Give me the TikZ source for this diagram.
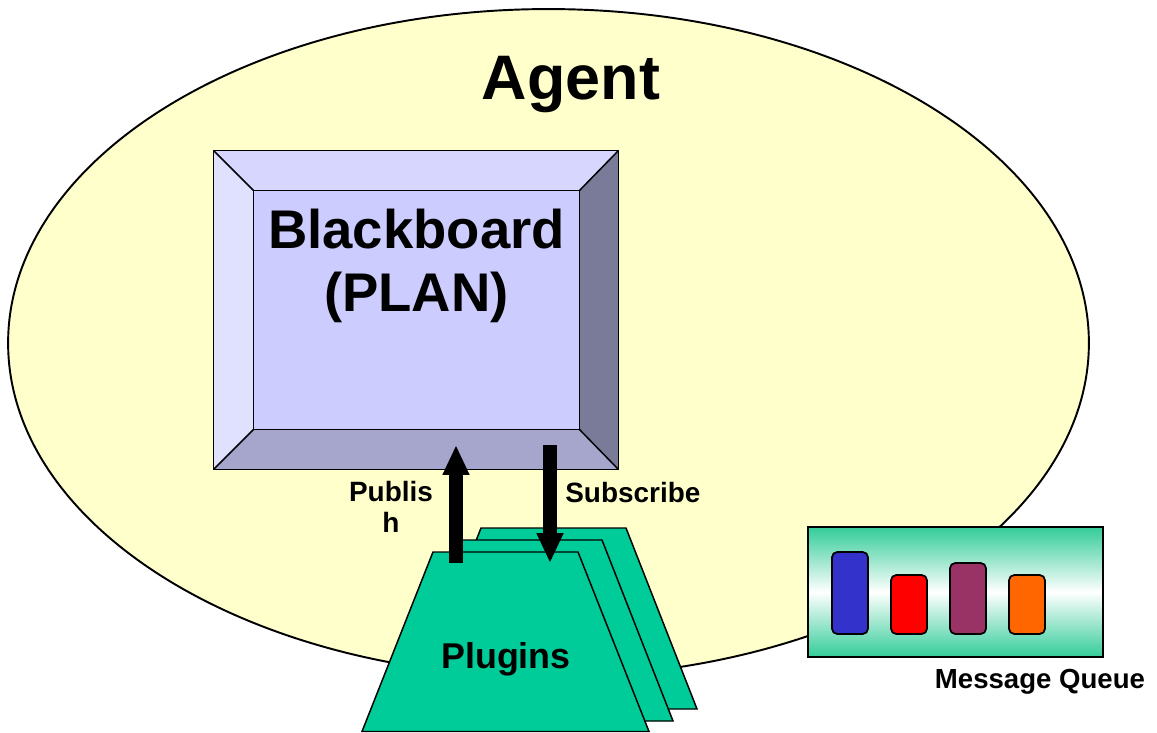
\documentclass[tikz,border=0pt]{standalone}
\usepackage{fontspec}
\setmainfont{Liberation Sans}
\usetikzlibrary{shapes.geometric,arrows.meta}

\definecolor{agentfill}{HTML}{FFFFCC}
\definecolor{boardface}{HTML}{CCCCFF}
\definecolor{bevtop}{HTML}{D6D6FF}
\definecolor{bevleft}{HTML}{E0E0FF}
\definecolor{bevbottom}{HTML}{A6A6CC}
\definecolor{bevright}{HTML}{7A7A99}
\definecolor{plugfill}{HTML}{00CC99}
\definecolor{queuegreen}{HTML}{33CC99}
\definecolor{msgblue}{HTML}{3333CC}
\definecolor{msgred}{HTML}{FF0000}
\definecolor{msgpurple}{HTML}{993366}
\definecolor{msgorange}{HTML}{FF6600}

\begin{document}
\begin{tikzpicture}[
  x=0.02cm, y=-0.02cm,
  font=\bfseries,
  agentbox/.style={ellipse, draw=black, line width=1.1pt, fill=agentfill, inner sep=0pt, minimum width=21.62cm, minimum height=13.36cm},
  rim/.style={draw=black, line width=0.85pt},
  plugcard/.style={draw=black, line width=0.85pt, fill=plugfill},
  queuebox/.style={rectangle, draw=black, line width=1.1pt, top color=queuegreen, bottom color=queuegreen, middle color=white, inner sep=0pt, minimum width=5.9cm, minimum height=2.6cm},
  msgbox/.style={rectangle, rounded corners=3pt, draw=black, line width=1pt, inner sep=0pt, minimum width=0.72cm},
  label/.style={inner sep=0pt, text=black},
  bigarrow/.style={line width=0.27cm, -{Triangle[width=0.5cm, length=0.6cm]}}
]
\useasboundingbox (0,0) rectangle (1157,733);

% agent boundary
\node (agent) [agentbox] at (548.5,343) {};
\node (agenttitle) [label, anchor=base, font=\fontsize{35.8}{42}\selectfont\bfseries] at (571,100) {Agent};

% blackboard with bevelled frame
\node (board) [rectangle, inner sep=0pt, minimum width=8.08cm, minimum height=6.36cm] at (416,310) {};
\node (face) [rectangle, inner sep=0pt, minimum width=6.5cm, minimum height=4.76cm] at (416.5,310) {};
\fill[bevtop] (board.north west) -- (board.north east) -- (face.north east) -- (face.north west) -- cycle;
\fill[bevleft] (board.north west) -- (face.north west) -- (face.south west) -- (board.south west) -- cycle;
\fill[bevbottom] (board.south west) -- (face.south west) -- (face.south east) -- (board.south east) -- cycle;
\fill[bevright] (board.north east) -- (board.south east) -- (face.south east) -- (face.north east) -- cycle;
\fill[boardface] (face.north west) rectangle (face.south east);
\draw[rim] (board.north west) rectangle (board.south east);
\draw[rim] (face.north west) rectangle (face.south east);
\draw[rim] (board.north west) -- (face.north west);
\draw[rim] (board.north east) -- (face.north east);
\draw[rim] (board.south west) -- (face.south west);
\draw[rim] (board.south east) -- (face.south east);
\node (boardtitle) [label, align=center, font=\fontsize{31}{36.3}\selectfont\bfseries] at (416.5,266) {Blackboard\\(PLAN)};

% stack of plugins, back to front
\path[plugcard] (481,528) -- (626,528) -- (697,709) -- (410,709) -- cycle;
\path[plugcard] (457,540) -- (602,540) -- (673,721) -- (386,721) -- cycle;
\path[plugcard] (433,552) -- (578,552) -- (649,731.5) -- (362,731.5) -- cycle;
\node (plugins) [label, anchor=base, font=\fontsize{20.4}{24}\selectfont\bfseries] at (506,668) {Plugins};

% message queue
\node (queue) [queuebox] at (955.5,592) {};
\node (msg1) [msgbox, fill=msgblue, minimum height=1.64cm] at (850,593) {};
\node (msg2) [msgbox, fill=msgred, minimum height=1.18cm] at (909,604.5) {};
\node (msg3) [msgbox, fill=msgpurple, minimum height=1.42cm] at (968,598.5) {};
\node (msg4) [msgbox, fill=msgorange, minimum height=1.18cm] at (1027,604.5) {};
\node (queuename) [label, anchor=base, font=\fontsize{15.7}{18}\selectfont\bfseries] at (1040,688) {Message Queue};

% publish / subscribe
\coordinate (pubfoot) at (456,563);
\coordinate (pubtip) at (456,445);
\coordinate (subtop) at (550,445);
\coordinate (subtip) at (550,563);
\draw[bigarrow] (pubfoot) -- (pubtip);
\draw[bigarrow] (subtop) -- (subtip);
\node (publabel) [label, align=center, font=\fontsize{15.9}{17.6}\selectfont\bfseries] at (391,507) {Publis\\h};
\node (sublabel) [label, anchor=base west, font=\fontsize{15.9}{19}\selectfont\bfseries] at (565,502) {Subscribe};

\end{tikzpicture}
\end{document}
